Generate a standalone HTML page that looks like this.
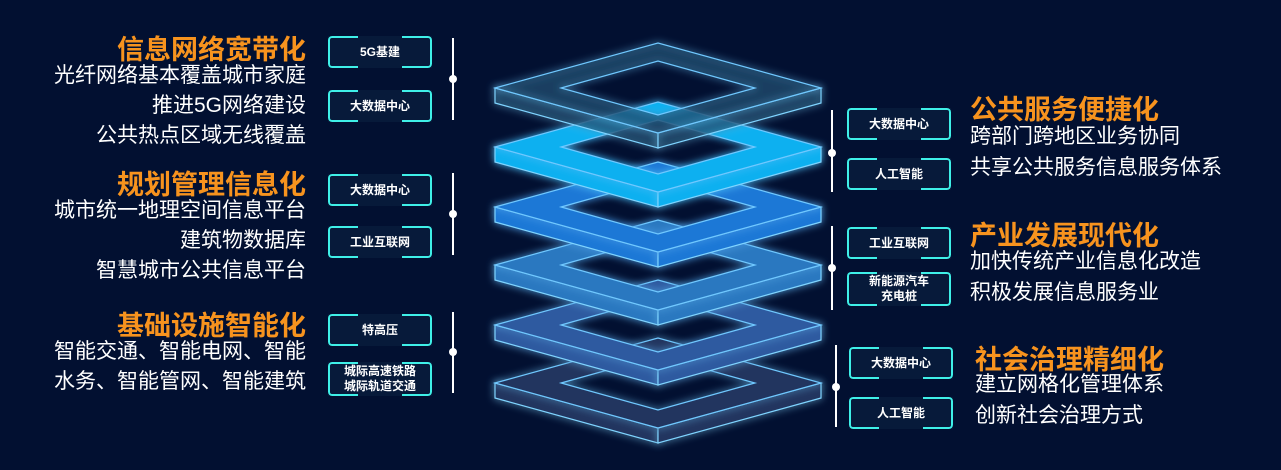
<!DOCTYPE html>
<html><head><meta charset="utf-8"><style>
body{margin:0;width:1281px;height:470px;background:#021031;overflow:hidden;position:relative;font-family:"Liberation Sans","Noto Sans CJK SC",sans-serif}
.t{position:absolute;color:#f7931e;font-weight:bold;font-size:27px;line-height:30px;white-space:nowrap}
.l{position:absolute;color:#fff;font-size:21px;line-height:26px;white-space:nowrap}
.r{text-align:right}
.b{position:absolute;width:104px;height:32px;color:#fff;font-size:12px;font-weight:bold;display:flex;align-items:center;justify-content:center;text-align:center;line-height:15px;background:#071a3a}
.b:before{content:"";position:absolute;inset:0;border:2px solid #3ff0e8;border-radius:4px;box-shadow:0 0 6px #2fd8e0;
 -webkit-mask:linear-gradient(#000,#000) 0 0/30px 100% no-repeat,linear-gradient(#000,#000) 100% 0/30px 100% no-repeat;
 mask:linear-gradient(#000,#000) 0 0/30px 100% no-repeat,linear-gradient(#000,#000) 100% 0/30px 100% no-repeat}
.v{position:absolute;width:2px;background:#fff}
.d{position:absolute;width:8px;height:8px;border-radius:50%;background:#fff}
</style></head><body>
<svg id="s" width="1281" height="470" style="position:absolute;left:0;top:0">
<defs><filter id="g" x="-20%" y="-50%" width="140%" height="200%"><feGaussianBlur stdDeviation="4" result="b"/><feMerge><feMergeNode in="b"/><feMergeNode in="SourceGraphic"/></feMerge></filter></defs>
</svg>
<script>
var s=document.getElementById('s'),ns='http://www.w3.org/2000/svg';
var L=[[383,'#22365f',1],[325,'#2f5aa0',1],[265,'#2a78c0',1],[207,'#1a78d6',1],[147,'#0ab0f0',1],[88,'#1d4a6e',0.55]];
function p(d,f,st,op){var e=document.createElementNS(ns,'path');e.setAttribute('d',d);e.setAttribute('fill',f);e.setAttribute('fill-rule','evenodd');e.setAttribute('stroke',st);e.setAttribute('stroke-width','1.2');e.setAttribute('fill-opacity',op);e.setAttribute('filter','url(#g)');s.appendChild(e);}
L.forEach(function(a){var Y=a[0],c=a[1],o=a[2],t=15;
p('M495 '+Y+'L658 '+(Y+45)+'L658 '+(Y+45+t)+'L495 '+(Y+t)+'Z',c,'#7fd4ff',o);
p('M821 '+Y+'L658 '+(Y+45)+'L658 '+(Y+45+t)+'L821 '+(Y+t)+'Z',c,'#7fd4ff',o);
p('M495 '+Y+'L658 '+(Y-45)+'L821 '+Y+'L658 '+(Y+45)+'Z M561 '+Y+'L658 '+(Y-27)+'L755 '+Y+'L658 '+(Y+27)+'Z',c,'#6fc8ff',o);
});
</script>
<div class="t r" style="right:975px;top:35px">信息网络宽带化</div>
<div class="l r" style="right:975px;top:63px">光纤网络基本覆盖城市家庭</div>
<div class="l r" style="right:975px;top:93px">推进5G网络建设</div>
<div class="l r" style="right:975px;top:123px">公共热点区域无线覆盖</div>
<div class="t r" style="right:975px;top:170px">规划管理信息化</div>
<div class="l r" style="right:975px;top:198px">城市统一地理空间信息平台</div>
<div class="l r" style="right:975px;top:228px">建筑物数据库</div>
<div class="l r" style="right:975px;top:258px">智慧城市公共信息平台</div>
<div class="t r" style="right:975px;top:311px">基础设施智能化</div>
<div class="l r" style="right:975px;top:339px">智能交通、智能电网、智能</div>
<div class="l r" style="right:975px;top:369px">水务、智能管网、智能建筑</div>

<div class="b" style="left:328px;top:36px">5G基建</div>
<div class="b" style="left:328px;top:90px">大数据中心</div>
<div class="b" style="left:328px;top:174px">大数据中心</div>
<div class="b" style="left:328px;top:226px">工业互联网</div>
<div class="b" style="left:328px;top:314px">特高压</div>
<div class="b" style="left:328px;top:362px;height:34px">城际高速铁路<br>城际轨道交通</div>
<div class="v" style="left:452px;top:38px;height:82px"></div><div class="d" style="left:449px;top:75px"></div>
<div class="v" style="left:452px;top:173px;height:82px"></div><div class="d" style="left:449px;top:210px"></div>
<div class="v" style="left:452px;top:312px;height:81px"></div><div class="d" style="left:449px;top:348px"></div>

<div class="v" style="left:831px;top:110px;height:82px"></div><div class="d" style="left:828px;top:149px"></div>
<div class="v" style="left:831px;top:226px;height:84px"></div><div class="d" style="left:828px;top:264px"></div>
<div class="v" style="left:835px;top:345px;height:82px"></div><div class="d" style="left:832px;top:383px"></div>
<div class="b" style="left:847px;top:108px">大数据中心</div>
<div class="b" style="left:847px;top:158px">人工智能</div>
<div class="b" style="left:847px;top:227px">工业互联网</div>
<div class="b" style="left:847px;top:272px;height:34px">新能源汽车<br>充电桩</div>
<div class="b" style="left:849px;top:347px">大数据中心</div>
<div class="b" style="left:849px;top:397px">人工智能</div>

<div class="t" style="left:970px;top:95px">公共服务便捷化</div>
<div class="l" style="left:970px;top:124px">跨部门跨地区业务协同</div>
<div class="l" style="left:970px;top:155px">共享公共服务信息服务体系</div>
<div class="t" style="left:970px;top:221px">产业发展现代化</div>
<div class="l" style="left:970px;top:249px">加快传统产业信息化改造</div>
<div class="l" style="left:970px;top:280px">积极发展信息服务业</div>
<div class="t" style="left:975px;top:345px">社会治理精细化</div>
<div class="l" style="left:975px;top:372px">建立网格化管理体系</div>
<div class="l" style="left:975px;top:403px">创新社会治理方式</div>
</body></html>
